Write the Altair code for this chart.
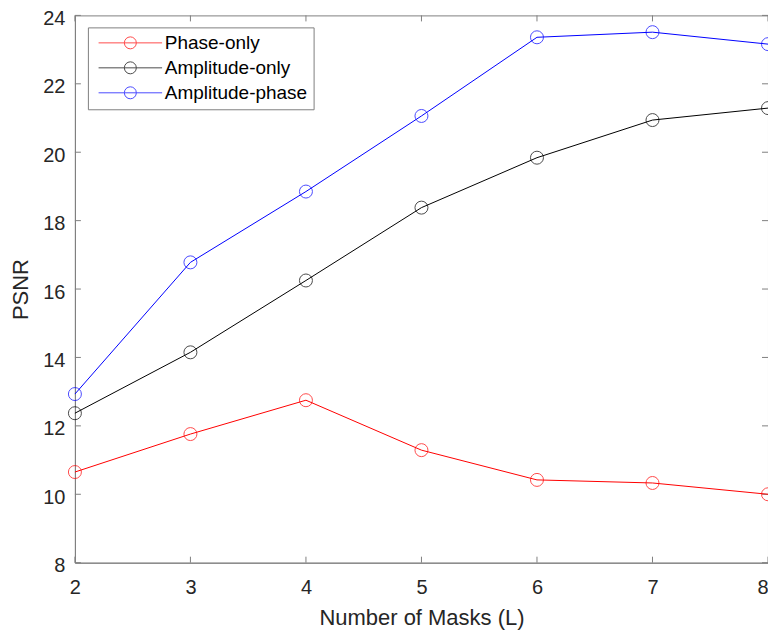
import altair as alt
import pandas as pd

masks = [2, 3, 4, 5, 6, 7, 8]
phase_only = [10.65, 11.76, 12.75, 11.29, 10.42, 10.33, 10.00]
amplitude_only = [12.37, 14.15, 16.25, 18.38, 19.84, 20.94, 21.29]
amplitude_phase = [12.93, 16.78, 18.85, 21.06, 23.36, 23.51, 23.16]

series_names = ["Phase-only", "Amplitude-only", "Amplitude-phase"]
series_colors = ["#ff0000", "#000000", "#0000ff"]
x_ticks = [2, 3, 4, 5, 6, 7, 8]
y_ticks = [8, 10, 12, 14, 16, 18, 20, 22, 24]

rows = []
for name, vals in zip(series_names, [phase_only, amplitude_only, amplitude_phase]):
    for m, v in zip(masks, vals):
        rows.append({"L": m, "PSNR": v, "series": name})
df = pd.DataFrame(rows)

W, H = 694, 548
FONT = "Liberation Sans"
AX = "#808080"

xscale = alt.Scale(domain=[2, 8], nice=False, zero=False)
yscale = alt.Scale(domain=[8, 24], nice=False, zero=False)

legend_path = "M-5.3,0H5.3M1,0A1,1 0 1,1 -1,0A1,1 0 1,1 1,0"

color = alt.Color(
    "series:N",
    scale=alt.Scale(domain=series_names, range=series_colors),
    legend=alt.Legend(
        title=None,
        orient="none",
        legendX=13,
        legendY=12,
        symbolType=legend_path,
        symbolSize=144,
        symbolStrokeWidth=1,
        symbolFillColor="transparent",
        symbolOffset=27,
        labelOffset=25,
        labelFontSize=19,
        labelFont=FONT,
        labelColor="#000000",
        rowPadding=5,
        padding=6,
        strokeColor=AX,
        fillColor="#ffffff",
        labelLimit=400,
    ),
)

xenc = alt.X(
    "L:Q",
    scale=xscale,
    axis=alt.Axis(
        title="Number of Masks (L)",
        values=x_ticks,
        format="d",
        tickSize=0,
        labelFlush=False,
        labelAlign={"condition": {"test": "datum.value == 8", "value": "right"}, "value": "center"},
        labelPadding=15,
        titlePadding=10,
        grid=False,
    ),
)
yenc = alt.Y(
    "PSNR:Q",
    scale=yscale,
    axis=alt.Axis(
        title="PSNR",
        values=y_ticks,
        format="d",
        tickSize=0,
        labelFlush=False,
        labelOffset=3,
        labelPadding=10,
        titlePadding=10,
        grid=False,
    ),
)

lines = alt.Chart(df).mark_line(strokeWidth=1, clip=False).encode(
    x=xenc, y=yenc, color=color, detail="series:N"
)
points = alt.Chart(df).mark_point(
    shape="circle", size=169, filled=False, strokeWidth=1, clip=False
).encode(x=alt.X("L:Q", scale=xscale), y=alt.Y("PSNR:Q", scale=yscale), color=color)

xt = pd.DataFrame({"t": x_ticks})
yt = pd.DataFrame({"t": y_ticks})
TL = 6
tick_style = dict(color=AX, strokeWidth=1)
bx = alt.Chart(xt).mark_rule(**tick_style).encode(
    x=alt.X("t:Q", scale=xscale), y=alt.value(H), y2=alt.value(H - TL)
)
tx = alt.Chart(xt).mark_rule(**tick_style).encode(
    x=alt.X("t:Q", scale=xscale), y=alt.value(0), y2=alt.value(TL)
)
ly = alt.Chart(yt).mark_rule(**tick_style).encode(
    y=alt.Y("t:Q", scale=yscale), x=alt.value(0), x2=alt.value(TL)
)
ry = alt.Chart(yt).mark_rule(**tick_style).encode(
    y=alt.Y("t:Q", scale=yscale), x=alt.value(W), x2=alt.value(W - TL)
)

chart = (
    alt.layer(bx, tx, ly, ry, lines, points)
    .properties(
        width=W,
        height=H,
        autosize=alt.AutoSizeParams(type="none"),
        padding={"left": 67, "top": 7, "right": 0, "bottom": 70},
    )
    .configure_view(stroke=AX, strokeWidth=1)
    .configure_axis(
        domainColor=AX,
        domainWidth=1,
        labelFont=FONT,
        labelFontSize=20,
        labelColor="#262626",
        titleFont=FONT,
        titleFontSize=22,
        titleFontWeight="normal",
        titleColor="#262626",
    )
)

chart.save("out.html", embed_options={"renderer": "svg", "actions": False})
